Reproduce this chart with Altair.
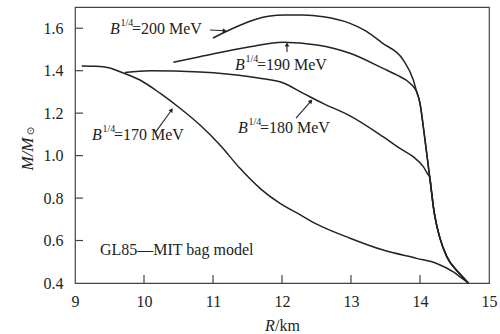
import math
import altair as alt
import pandas as pd

# ---------------- data ----------------
r170 = [9.097, 9.3, 9.507, 9.652, 9.942, 10.232, 10.522, 10.812, 11.101, 11.391,
        11.681, 11.971, 12.26, 12.503, 12.986, 13.468, 13.952, 14.242, 14.483, 14.6, 14.70]
m170 = [1.422, 1.421, 1.413, 1.395, 1.356, 1.294, 1.223, 1.144, 1.050, 0.940,
        0.846, 0.775, 0.722, 0.677, 0.611, 0.555, 0.516, 0.492, 0.452, 0.424, 0.40]

r180 = [9.725, 10.087, 10.81, 11.536, 11.725, 12.01, 12.31, 12.6, 12.986, 13.464,
        13.71, 13.90, 14.048, 14.12, 14.14]
m180 = [1.391, 1.400, 1.394, 1.372, 1.362, 1.343, 1.293, 1.245, 1.187, 1.089,
        1.034, 0.995, 0.948, 0.909, 0.90]

r190 = [10.425, 10.81, 11.536, 12.014, 12.507, 12.986, 13.464, 13.662, 13.855]
m190 = [1.440, 1.466, 1.513, 1.534, 1.521, 1.482, 1.411, 1.380, 1.341]

r200 = [11.0, 11.35, 11.6, 11.8, 12.05, 12.3, 12.6, 12.986, 13.2, 13.46, 13.758, 13.903]
m200 = [1.554, 1.608, 1.640, 1.656, 1.662, 1.662, 1.654, 1.623, 1.590, 1.529, 1.450, 1.356]

# common steep branch (190 and 200 join it first, 180 joins lower)
mid_r = [13.952, 14.0, 14.048, 14.097, 14.14]
mid_m = [1.301, 1.246, 1.136, 1.011, 0.90]
tail_r = [14.17, 14.193, 14.24, 14.29, 14.39, 14.53, 14.62, 14.70]
tail_m = [0.822, 0.76, 0.675, 0.61, 0.523, 0.46, 0.428, 0.40]

curves = {
    "170": (r170, m170),
    "180": (r180 + tail_r, m180 + tail_m),
    "190": (r190 + mid_r + tail_r, m190 + mid_m + tail_m),
    "200": (r200 + mid_r + tail_r, m200 + mid_m + tail_m),
}

x_ticks = [9, 10, 11, 12, 13, 14, 15]
y_ticks = [0.4, 0.6, 0.8, 1.0, 1.2, 1.4, 1.6]
x_inner_ticks = [10, 11, 12, 13, 14]
y_inner_ticks = [0.6, 0.8, 1.0, 1.2, 1.4, 1.6]

label_x = [9.507, 11.319, 11.362, 9.246]
label_y = [1.596, 1.427, 1.130, 1.097]
label_rest = ["=200 MeV", "=190 MeV", "=180 MeV", "=170 MeV"]

arrow_x = [10.957, 12.072, 12.203, 10.16]
arrow_y = [1.592, 1.488, 1.177, 1.107]
arrow_x2 = [11.17, 12.072, 12.42, 10.40]
arrow_y2 = [1.588, 1.523, 1.257, 1.215]

note_text = ["GL85\u2014MIT bag model"]
note_x = [9.362]
note_y = [0.555]

# ---------------- layout ----------------
W, H = 414, 276
XD, YD = [9, 15], [0.4, 1.7]
FONT = "Liberation Serif"
INK = "#222222"

xs = alt.Scale(domain=XD, nice=False, zero=False)
ys = alt.Scale(domain=YD, nice=False, zero=False)
XAX = alt.Axis(values=x_ticks, format="d", title=None, ticks=False, domain=False, grid=False,
               labelFont=FONT, labelFontSize=16, labelColor=INK, labelPadding=10, labelFlush=False)
YAX = alt.Axis(values=y_ticks, format=".1f", title=None, ticks=False, domain=False, grid=False,
               labelFont=FONT, labelFontSize=16, labelColor=INK, labelPadding=12)


def X(f):
    return alt.X(f, scale=xs, axis=XAX, title=None)


def Y(f):
    return alt.Y(f, scale=ys, axis=YAX, title=None)


rows = []
for name, (rr, mm) in curves.items():
    for i, (a, b) in enumerate(zip(rr, mm)):
        rows.append({"r": a, "m": b, "curve": name, "i": i})
df = pd.DataFrame(rows)

lines = alt.Chart(df).mark_line(interpolate="monotone", color=INK, strokeWidth=1.5).encode(
    x=X("r:Q"), y=Y("m:Q"), detail="curve:N", order="i:Q")

xt = alt.Chart(pd.DataFrame({"r": x_inner_ticks})).mark_rule(color="#444", strokeWidth=1.2).encode(
    x=X("r:Q"), y=alt.value(H), y2=alt.value(H - 8))
yt = alt.Chart(pd.DataFrame({"m": y_inner_ticks})).mark_rule(color="#444", strokeWidth=1.2).encode(
    y=Y("m:Q"), x=alt.value(0), x2=alt.value(8))

# arrows
kx = W / (XD[1] - XD[0])
ky = H / (YD[1] - YD[0])
ang = [math.degrees(math.atan2((b2 - b1) * kx, (d2 - d1) * ky))
       for b1, b2, d1, d2 in zip(arrow_x, arrow_x2, arrow_y, arrow_y2)]
adf = pd.DataFrame({"r": arrow_x, "m": arrow_y, "r2": arrow_x2, "m2": arrow_y2, "ang": ang})
arrow_lines = alt.Chart(adf).mark_rule(color=INK, strokeWidth=1.1).encode(
    x=X("r:Q"), y=Y("m:Q"), x2="r2:Q", y2="m2:Q")
arrow_heads = alt.Chart(adf.rename(columns={"r": "r0", "m": "m0", "r2": "r", "m2": "m"})).mark_point(
    shape="triangle-up", filled=True, color=INK, size=22, opacity=1).encode(
    x=X("r:Q"), y=Y("m:Q"), angle=alt.Angle("ang:Q", scale=None))

# curve labels: italic B, superscript 1/4, rest
ldf = pd.DataFrame({"r": label_x, "m": label_y, "rest": label_rest, "b": ["B"] * 4, "sup": ["1/4"] * 4})
base = alt.Chart(ldf)
lb = base.mark_text(font=FONT, fontSize=16, fontStyle="italic", align="left", baseline="middle", color=INK).encode(
    x=X("r:Q"), y=Y("m:Q"), text="b:N")
ls = base.mark_text(font=FONT, fontSize=10, align="left", baseline="middle", dx=10.5, dy=-6, color=INK).encode(
    x=X("r:Q"), y=Y("m:Q"), text="sup:N")
lr = base.mark_text(font=FONT, fontSize=16, align="left", baseline="middle", dx=22, color=INK).encode(
    x=X("r:Q"), y=Y("m:Q"), text="rest:N")

note = alt.Chart(pd.DataFrame({"r": note_x, "m": note_y, "t": note_text})).mark_text(
    font=FONT, fontSize=16, align="left", baseline="middle", color=INK).encode(
    x=X("r:Q"), y=Y("m:Q"), text="t:N")

# axis titles
tdf = pd.DataFrame({"t": ["x"]})
xt_R = alt.Chart(tdf).mark_text(text="R", font=FONT, fontSize=16, fontStyle="italic", align="left",
                                baseline="middle", color=INK).encode(x=alt.value(190), y=alt.value(319))
xt_km = alt.Chart(tdf).mark_text(text="/km", font=FONT, fontSize=16, align="left",
                                 baseline="middle", color=INK).encode(x=alt.value(200), y=alt.value(319))
yt_M = alt.Chart(tdf).mark_text(text="M/M", font=FONT, fontSize=17, fontStyle="italic", angle=270,
                                align="center", baseline="middle", color=INK).encode(x=alt.value(-47), y=alt.value(147))
yt_sun = alt.Chart(tdf).mark_text(text="\u2299", font="DejaVu Sans", fontSize=10, angle=270,
                                  align="center", baseline="middle", color=INK).encode(x=alt.value(-44), y=alt.value(124))

chart = alt.layer(lines, xt, yt, arrow_lines, arrow_heads, lb, ls, lr, note, xt_R, xt_km, yt_M, yt_sun).properties(
    width=W, height=H,
    autosize=alt.AutoSizeParams(type="none"),
    padding={"left": 75, "top": 7, "right": 11, "bottom": 51},
    background="white",
).configure_view(stroke="#444444", strokeWidth=1.2)

chart.save("out.html", embed_options={"renderer": "svg", "actions": False})
